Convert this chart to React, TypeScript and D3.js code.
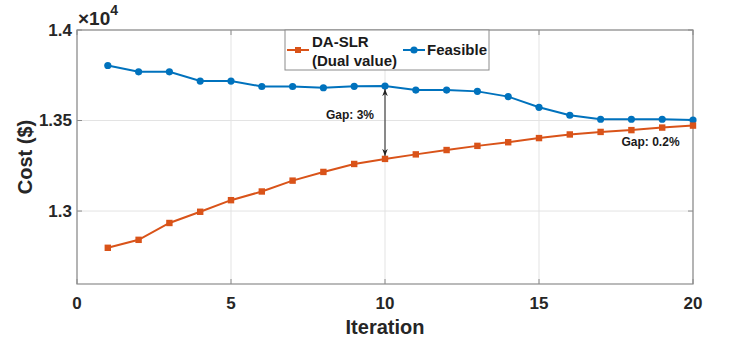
import { line, scaleLinear } from 'd3'

const iterations = [1, 2, 3, 4, 5, 6, 7, 8, 9, 10, 11, 12, 13, 14, 15, 16, 17, 18, 19, 20]
const dualValues = [
  12797, 12841, 12934, 12996, 13060, 13108, 13168, 13216, 13260, 13288,
  13313, 13337, 13360, 13380, 13403, 13423, 13437, 13447, 13461, 13472,
]
const feasibleValues = [
  13804, 13769, 13769, 13718, 13718, 13688, 13688, 13681, 13689, 13690,
  13668, 13668, 13661, 13632, 13573, 13529, 13507, 13507, 13507, 13503,
]
const xTicks = [0, 5, 10, 15, 20]
const yTicks = [13000, 13500, 14000]
const yTickLabels = ['1.3', '1.35', '1.4']

const width = 731
const height = 344
const margin = { top: 30, right: 38, bottom: 60, left: 77 }

const blue = '#0072BD'
const orange = '#D95319'
const font = '"Liberation Sans", Arial, sans-serif'

function App() {
  const innerWidth = width - margin.left - margin.right
  const innerHeight = height - margin.top - margin.bottom

  const x = scaleLinear().domain([0, 20]).range([0, innerWidth])
  const y = scaleLinear().domain([12597, 14000]).range([innerHeight, 0])

  const path = line<number>()
    .x((_, i) => x(iterations[i]))
    .y((d) => y(d))

  const gapX = x(10)
  const gapTop = y(feasibleValues[9]) + 3
  const gapBottom = y(dualValues[9]) - 3

  return (
    <svg
      width={width}
      height={height}
      style={{ position: 'absolute', left: 0, top: 0, background: '#fff' }}
      fontFamily={font}
    >
      <defs>
        <marker id="arrow" viewBox="0 0 10 10" refX="10" refY="5" markerWidth="7" markerHeight="7" orient="auto-start-reverse">
          <path d="M0,1 L10,5 L0,9 L3,5 Z" fill="#222" />
        </marker>
      </defs>
      <g transform={`translate(${margin.left}, ${margin.top})`}>
        {xTicks.map((t) => (
          <line key={`gx${t}`} x1={x(t)} x2={x(t)} y1={0} y2={innerHeight} stroke="#e3e3e3" />
        ))}
        {yTicks.map((t) => (
          <line key={`gy${t}`} x1={0} x2={innerWidth} y1={y(t)} y2={y(t)} stroke="#e3e3e3" />
        ))}

        <rect x={0} y={0} width={innerWidth} height={innerHeight} fill="none" stroke="#8c8c8c" strokeWidth={1.2} />

        {xTicks.map((t) => (
          <g key={`tx${t}`}>
            <line x1={x(t)} x2={x(t)} y1={innerHeight} y2={innerHeight - 5} stroke="#8c8c8c" />
            <line x1={x(t)} x2={x(t)} y1={0} y2={5} stroke="#8c8c8c" />
            <text x={x(t)} y={innerHeight + 25} textAnchor="middle" fontSize={17} fontWeight="bold" fill="#262626">
              {t}
            </text>
          </g>
        ))}
        {yTicks.map((t, i) => (
          <g key={`ty${t}`}>
            <line x1={0} x2={5} y1={y(t)} y2={y(t)} stroke="#8c8c8c" />
            <line x1={innerWidth} x2={innerWidth - 5} y1={y(t)} y2={y(t)} stroke="#8c8c8c" />
            <text x={-5} y={y(t)} dy="0.35em" textAnchor="end" fontSize={17} fontWeight="bold" fill="#262626">
              {yTickLabels[i]}
            </text>
          </g>
        ))}

        <text x={1} y={-5} fontSize={19} fontWeight="bold" fill="#262626">
          ×10
          <tspan dy={-10} fontSize={14}>4</tspan>
        </text>

        <path d={path(feasibleValues) ?? ''} fill="none" stroke={blue} strokeWidth={2} />
        {feasibleValues.map((v, i) => (
          <circle key={`f${i}`} cx={x(iterations[i])} cy={y(v)} r={3.6} fill={blue} />
        ))}

        <path d={path(dualValues) ?? ''} fill="none" stroke={orange} strokeWidth={2} />
        {dualValues.map((v, i) => (
          <rect key={`d${i}`} x={x(iterations[i]) - 3.2} y={y(v) - 3.2} width={6.4} height={6.4} fill={orange} />
        ))}

        <line x1={gapX} x2={gapX} y1={gapTop} y2={gapBottom} stroke="#222" strokeWidth={1} markerStart="url(#arrow)" markerEnd="url(#arrow)" />
        <text x={gapX - 59} y={y(13508)} fontSize={12} fontWeight="bold" fill="#1a1a1a">
          Gap: 3%
        </text>
        <text x={x(17.68)} y={y(13360)} fontSize={12} fontWeight="bold" fill="#1a1a1a">
          Gap: 0.2%
        </text>

        <g transform="translate(208, 0)">
          <rect x={0} y={0} width={204} height={40} fill="#fff" stroke="#8c8c8c" />
          <line x1={2} x2={24} y1={20} y2={20} stroke={orange} strokeWidth={2} />
          <rect x={10} y={17} width={6} height={6} fill={orange} />
          <text x={27} y={12} dy="0.35em" fontSize={15} fontWeight="bold" fill="#1a1a1a">DA-SLR</text>
          <text x={27} y={31} dy="0.35em" fontSize={15} fontWeight="bold" fill="#1a1a1a">(Dual value)</text>
          <line x1={118} x2={140} y1={20} y2={20} stroke={blue} strokeWidth={2} />
          <circle cx={129} cy={20} r={3.6} fill={blue} />
          <text x={142} y={20} dy="0.35em" fontSize={15} fontWeight="bold" fill="#1a1a1a">Feasible</text>
        </g>

        <text x={innerWidth / 2} y={innerHeight + 50} textAnchor="middle" fontSize={20} fontWeight="bold" fill="#262626">
          Iteration
        </text>
      </g>
      <text
        transform={`translate(25, ${margin.top + 127}) rotate(-90)`}
        textAnchor="middle"
        dy="0.35em"
        fontSize={20}
        fontWeight="bold"
        fill="#262626"
      >
        Cost ($)
      </text>
    </svg>
  )
}

export default App
